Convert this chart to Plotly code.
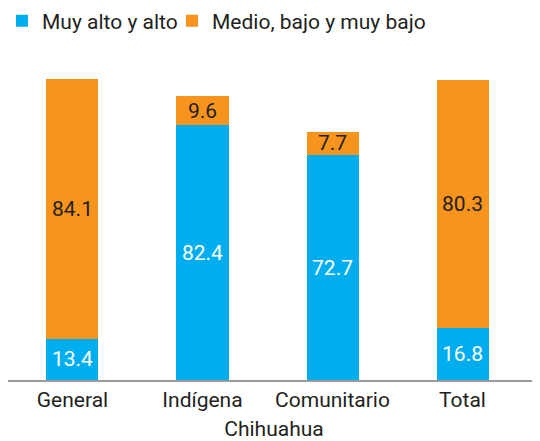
import plotly.graph_objects as go

categories = ["General", "Indígena", "Comunitario", "Total"]
muy_alto_alto = [13.4, 82.4, 72.7, 16.8]
medio_bajo = [84.1, 9.6, 7.7, 80.3]
axis_title = "Chihuahua"
series_names = ["Muy alto y alto", "Medio, bajo y muy bajo"]

BLUE = "#00AEEF"
ORANGE = "#F7941D"
DARK = "#231F20"
FONT = "Roboto"

# page body has an 8px default margin; figure sized to fit the 540x441 window
W, H = 532, 433
T, B = 63, 61
PH = H - T - B

fig = go.Figure()
fig.add_trace(go.Bar(
    x=categories, y=muy_alto_alto, name=series_names[0], legend="legend",
    marker=dict(color=BLUE, line=dict(width=0)), width=0.4,
    text=[f"{v:.1f}" for v in muy_alto_alto], textposition="inside",
    insidetextanchor="middle", textangle=0,
    textfont=dict(color="white", size=21, family=FONT),
    hoverinfo="skip",
))
fig.add_trace(go.Bar(
    x=categories, y=medio_bajo, name=series_names[1], legend="legend2",
    marker=dict(color=ORANGE, line=dict(width=0)), width=0.4,
    text=[f"{v:.1f}" for v in medio_bajo], textposition="inside",
    insidetextanchor="middle", textangle=0,
    textfont=dict(color=DARK, size=21, family=FONT),
    hoverinfo="skip",
))

leg_y = 1 + (T - 13) / PH
legend_common = dict(orientation="h", yanchor="middle", xanchor="left",
                     xref="paper", yref="paper", font=dict(size=21, color=DARK),
                     borderwidth=0, bgcolor="rgba(0,0,0,0)")

fig.update_layout(
    barmode="stack",
    width=W, height=H,
    margin=dict(l=0, r=0, t=T, b=B, autoexpand=False),
    paper_bgcolor="white", plot_bgcolor="white",
    font=dict(family=FONT, size=21, color=DARK),
    uniformtext=dict(mode="show", minsize=21),
    legend=dict(x=-6 / W, y=leg_y, **legend_common),
    legend2=dict(x=164 / W, y=leg_y, **legend_common),
    showlegend=True,
)
fig.update_xaxes(
    range=[-0.496, 3.596], showline=True, linecolor="#9a9a9a", linewidth=1.5,
    ticks="", showgrid=False, tickfont=dict(size=21, color=DARK), automargin=False,
    title=dict(text=axis_title, font=dict(size=21, color=DARK), standoff=15),
)
fig.update_yaxes(range=[0, 100], visible=False, showgrid=False, automargin=False)

fig.write_html("out.html")
